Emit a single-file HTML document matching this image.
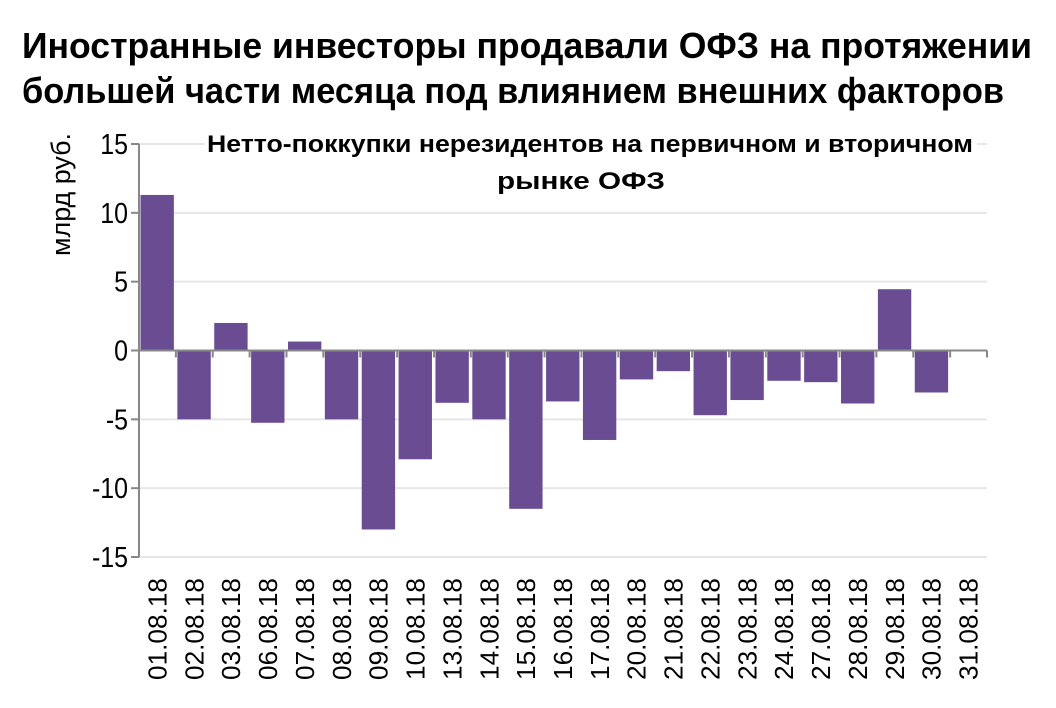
<!DOCTYPE html>
<html><head><meta charset="utf-8"><style>
html,body{margin:0;padding:0;background:#fff;width:1056px;height:708px;overflow:hidden}
svg{display:block;font-family:"Liberation Sans Narrow","Liberation Sans",sans-serif}
</style></head><body>
<svg id="chart" width="1056" height="708">
<g id="grid"></g>
<rect x="205" y="128" width="772" height="62" fill="#fff"/>
<text x="22" y="58" font-size="36" font-weight="bold" textLength="1010" lengthAdjust="spacingAndGlyphs">Иностранные инвесторы продавали ОФЗ на протяжении</text>
<text x="22" y="103" font-size="36" font-weight="bold" textLength="982" lengthAdjust="spacingAndGlyphs">большей части месяца под влиянием внешних факторов</text>
<text x="207" y="152" font-size="24" font-weight="bold" textLength="766" lengthAdjust="spacingAndGlyphs">Нетто-поккупки нерезидентов на первичном и вторичном</text>
<text x="497" y="189" font-size="24" font-weight="bold" textLength="168" lengthAdjust="spacingAndGlyphs">рынке ОФЗ</text>
<text transform="translate(70,256) rotate(-90)" font-size="27" textLength="123" lengthAdjust="spacingAndGlyphs">млрд руб.</text>
<g id="bars"></g><g id="axes"></g><g id="labels"></g>
</svg>
<script>
const categories=["01.08.18","02.08.18","03.08.18","06.08.18","07.08.18","08.08.18","09.08.18","10.08.18","13.08.18","14.08.18","15.08.18","16.08.18","17.08.18","20.08.18","21.08.18","22.08.18","23.08.18","24.08.18","27.08.18","28.08.18","29.08.18","30.08.18","31.08.18"];
const values=[11.3,-5.0,2.0,-5.25,0.65,-5.0,-13.0,-7.9,-3.8,-5.0,-11.5,-3.7,-6.5,-2.1,-1.5,-4.7,-3.6,-2.2,-2.3,-3.85,4.45,-3.05,0];
const yTicks=[15,10,5,0,-5,-10,-15];
const NS="http://www.w3.org/2000/svg";
const x0=139,x1=987,yTop=144,yBot=557,vmin=-15,vmax=15;
const slot=(x1-x0)/categories.length;
const y=v=>yTop+(vmax-v)/(vmax-vmin)*(yBot-yTop);
const xs=i=>x0+i*slot;
function mk(tag,attrs,parent,txt){const e=document.createElementNS(NS,tag);for(const k in attrs)e.setAttribute(k,attrs[k]);if(txt!==undefined)e.textContent=txt;document.getElementById(parent).appendChild(e);return e;}
yTicks.forEach(t=>{
  if(t!==0){const g=mk('line',{x1:x0,x2:x1,y1:y(t),y2:y(t),stroke:'#e6e6e6','stroke-width':2},'grid');
  
  }
  const tk=mk('line',{x1:x0-8,x2:x0,y1:y(t),y2:y(t),stroke:'#888','stroke-width':2},'axes');
  
  
  const l=mk('text',{transform:`translate(128,${y(t)+10}) scale(0.86,1)`,x:0,y:0,'text-anchor':'end','font-size':29},'labels',String(t));
  
  
});
values.forEach((v,i)=>{
  const top=Math.min(y(v),y(0)),h=Math.abs(y(v)-y(0));
  const b=mk('rect',{x:xs(i)+1.5,y:top,width:slot-3.5,height:h,fill:'#6a4c93'},'bars');
  
  
});
const ya=mk('line',{x1:x0,x2:x0,y1:yTop,y2:yBot,stroke:'#888','stroke-width':2},'axes');


const xa=mk('line',{x1:x0-8,x2:x1,y1:y(0),y2:y(0),stroke:'#888','stroke-width':2},'axes');


for(let i=1;i<=categories.length;i++){
  const t=mk('line',{x1:xs(i),x2:xs(i),y1:y(0),y2:y(0)+7,stroke:'#888','stroke-width':2},'axes');
  
  
}
categories.forEach((c,i)=>{
  const cx=xs(i)+slot/2+9;
  const l=mk('text',{transform:`translate(${cx},578) rotate(-90)`,'text-anchor':'end','font-size':26,textLength:102,lengthAdjust:'spacingAndGlyphs'},'labels',c);
  
  
});
</script>
</body></html>
